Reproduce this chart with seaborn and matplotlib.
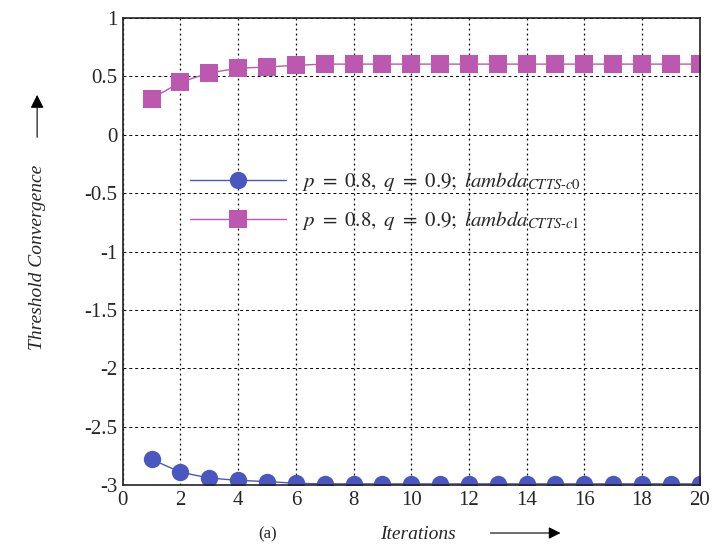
import numpy as np
import pandas as pd
import matplotlib
matplotlib.use('Agg')
import matplotlib.pyplot as plt
import seaborn as sns

iterations = list(range(1, 21))
c0 = [-2.78, -2.89, -2.94, -2.96, -2.97, -2.985, -2.99, -2.99, -2.99, -2.99,
      -2.99, -2.99, -2.99, -2.99, -2.99, -2.99, -2.99, -2.99, -2.99, -2.99]
c1 = [0.31, 0.45, 0.53, 0.57, 0.58, 0.595, 0.605, 0.605, 0.605, 0.605,
      0.605, 0.605, 0.605, 0.605, 0.605, 0.605, 0.605, 0.605, 0.605, 0.605]
labels = [r'$p\ =\ 0.8,\ q\ =\ 0.9;\ lambda_{CTTS\text{-}c0}$',
          r'$p\ =\ 0.8,\ q\ =\ 0.9;\ lambda_{CTTS\text{-}c1}$']
xticks = list(range(0, 21, 2))
yticks = [1, 0.5, 0, -0.5, -1, -1.5, -2, -2.5, -3]
ytick_labels = ['1', '0.5', '0', '-0.5', '-1', '-1.5', '-2', '-2.5', '-3']

sns.set_style('white')
plt.rcParams['font.family'] = ['Liberation Serif', 'DejaVu Serif']
plt.rcParams['mathtext.fontset'] = 'stix'

df = pd.DataFrame({'Iterations': iterations * 2,
                   'value': c0 + c1,
                   'series': [labels[0]] * 20 + [labels[1]] * 20})

fig = plt.figure(figsize=(7.14, 5.45), dpi=100)
ax = fig.add_axes([0.172, 0.110, 0.808, 0.857])
palette = {labels[0]: '#4a57c0', labels[1]: '#bd58b0'}
sns.lineplot(data=df, x='Iterations', y='value', hue='series', style='series',
             markers={labels[0]: 'o', labels[1]: 's'}, dashes=False,
             palette=palette, markersize=12.5, linewidth=1, markeredgewidth=0,
             ax=ax)

ax.set_xlim(0, 20)
ax.set_ylim(-3, 1)
ax.set_xticks(xticks)
ax.set_yticks(yticks)
ax.set_yticklabels(ytick_labels)
ax.tick_params(labelsize=15, length=0, pad=4)
ax.xaxis.grid(True, color='black', linestyle=(0, (1.5, 2.5)), linewidth=0.9)
ax.yaxis.grid(True, color='black', linestyle=(0, (3, 3)), linewidth=0.7)
for s in ax.spines.values():
    s.set_color('#222222')
    s.set_linewidth(1.2)
ax.set_xlabel('')
ax.set_ylabel('')

ax.legend(title=None, loc='upper left', bbox_to_anchor=(0.116, 0.674),
          frameon=False, fontsize=15, handlelength=4.6, labelspacing=0.75,
          borderpad=0, borderaxespad=0)

fig.text(0.375, 0.02, '(a)', fontsize=12, ha='center', va='center')
fig.text(0.585, 0.02, 'Iterations', fontsize=14, style='italic',
         ha='center', va='center')
fig.text(0.053, 0.528, 'Threshold Convergence', fontsize=14, style='italic',
         rotation=90, va='center', ha='center')
fig.patches.append(matplotlib.patches.FancyArrowPatch(
    (0.683, 0.022), (0.789, 0.022), transform=fig.transFigure,
    arrowstyle='-|>', mutation_scale=18, color='black', lw=0.8))
fig.patches.append(matplotlib.patches.FancyArrowPatch(
    (0.052, 0.743), (0.052, 0.831), transform=fig.transFigure,
    arrowstyle='-|>', mutation_scale=20, color='black', lw=0.8))

fig.savefig('out.png', dpi=100)
